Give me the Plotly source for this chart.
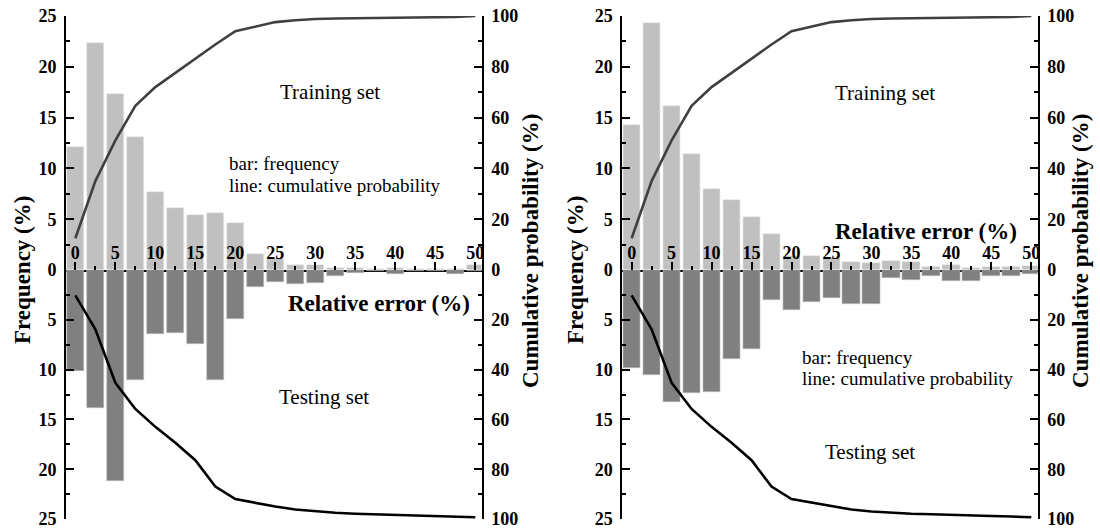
import plotly.graph_objects as go

# ---------------- data ----------------
rel_error = [0, 2.5, 5, 7.5, 10, 12.5, 15, 17.5, 20, 22.5, 25, 27.5, 30,
             32.5, 35, 37.5, 40, 42.5, 45, 47.5, 50]
x_tick_vals = [0, 5, 10, 15, 20, 25, 30, 35, 40, 45, 50]
freq_ticks_top = [0, 5, 10, 15, 20, 25]
freq_ticks_bottom = [5, 10, 15, 20, 25]
cum_ticks_top = [0, 20, 40, 60, 80, 100]
cum_ticks_bottom = [20, 40, 60, 80, 100]

# left panel
train_freq_a = [12.1, 22.3, 17.3, 13.1, 7.7, 6.1, 5.4, 5.6, 4.6, 1.6, 1.1,
                0.5, 0.45, 0.15, 0.2, 0.1, 0.15, 0.1, 0.1, 0.1, 0.5]
test_freq_a = [10.1, 13.9, 21.2, 11.0, 6.4, 6.3, 7.4, 11.0, 4.9, 1.7, 1.25,
               1.4, 1.3, 0.6, 0.35, 0.15, 0.4, 0.15, 0.15, 0.4, 0.15]
train_cum_a = [12.5, 35.0, 51.0, 64.6, 72.0, 77.6, 83.0, 88.8, 94.0, 95.9,
               97.6, 98.3, 98.8, 99.0, 99.1, 99.2, 99.3, 99.4, 99.5, 99.6, 100.0]
test_cum_a = [10.2, 23.8, 45.3, 55.8, 63.0, 69.4, 76.4, 87.0, 92.0, 93.5,
              95.0, 96.2, 97.0, 97.5, 97.9, 98.1, 98.4, 98.6, 98.8, 99.0, 99.3]

# right panel
train_freq_b = [14.3, 24.3, 16.1, 11.4, 8.0, 6.9, 5.2, 3.5, 1.4, 1.4, 1.15,
                0.8, 0.7, 0.9, 0.75, 0.33, 0.5, 0.2, 0.33, 0.26, 0.43]
test_freq_b = [9.8, 10.5, 13.3, 12.3, 12.2, 8.95, 7.9, 3.0, 4.0, 3.25, 2.85,
               3.4, 3.4, 0.85, 1.05, 0.62, 1.15, 1.1, 0.62, 0.62, 0.4]
train_cum_b = [12.5, 35.0, 51.0, 64.6, 72.0, 77.6, 83.0, 88.8, 94.0, 95.9,
               97.6, 98.3, 98.8, 99.0, 99.1, 99.2, 99.3, 99.4, 99.5, 99.6, 100.0]
test_cum_b = [10.2, 23.8, 45.3, 55.8, 63.0, 69.4, 76.4, 87.0, 92.0, 93.5,
              95.0, 96.2, 97.0, 97.5, 97.9, 98.1, 98.4, 98.6, 98.8, 99.0, 99.3]

# ---------------- layout helpers ----------------
W, H = 1100, 530
def PX(px):
    return px / W
def PY(py):
    return 1 - py / H

FONT = 'Liberation Serif'
tickfont = dict(family=FONT, size=18, color='black', weight='bold')
X_RANGE = [-1.17, 50.8]
TOP_DOM = [PY(270), PY(16)]
BOT_DOM = [PY(519), PY(270)]
PANEL_DOMS = [[PX(66), PX(481.7)], [PX(622.3), PX(1037.7)]]

TRAIN_BAR = '#c0c0c0'
TEST_BAR = '#808080'
TRAIN_LINE = '#404040'
TEST_LINE = '#000000'

fig = go.Figure()
layout = dict(
    width=W, height=H,
    margin=dict(l=0, r=0, t=0, b=0, pad=0, autoexpand=False),
    paper_bgcolor='white', plot_bgcolor='white',
    showlegend=False,
    bargap=0,
)

def yaxis_common():
    return dict(showline=True, linecolor='black', linewidth=2,
                ticks='inside', ticklen=8, tickwidth=2, tickcolor='black',
                tickfont=tickfont, showgrid=False, zeroline=False,
                ticklabelstandoff=4, automargin=False,
                ticklabeloverflow='allow')

panels = [
    (train_freq_a, test_freq_a, train_cum_a, test_cum_a),
    (train_freq_b, test_freq_b, train_cum_b, test_cum_b),
]

for i, (trf, tef, trc, tec) in enumerate(panels):
    xt = 2 * i + 1          # top x axis index
    xb = 2 * i + 2          # bottom x axis index
    yl_t = 4 * i + 1
    yr_t = 4 * i + 2
    yl_b = 4 * i + 3
    yr_b = 4 * i + 4
    def nm(prefix, k):
        return prefix + ('' if k == 1 else str(k))

    dom = PANEL_DOMS[i]
    # x axes
    layout[nm('xaxis', xt)] = dict(
        domain=dom, range=X_RANGE, anchor=nm('y', yl_t),
        showline=True, linecolor='black', linewidth=2,
        ticks='inside', ticklen=8, tickwidth=2, tickcolor='black',
        tickmode='array', tickvals=x_tick_vals,
        ticklabelposition='inside', ticklabeloverflow='allow',
        tickfont=tickfont, showgrid=False, zeroline=False, automargin=False,
        minor=dict(dtick=2.5, tick0=0, ticks='inside', ticklen=4,
                   tickwidth=2, tickcolor='black'),
    )
    layout[nm('xaxis', xb)] = dict(
        domain=dom, range=X_RANGE, anchor=nm('y', yl_b),
        visible=False, showgrid=False, zeroline=False, automargin=False,
    )
    # y axes
    a = yaxis_common()
    a.update(domain=TOP_DOM, range=[0, 25], anchor=nm('x', xt), side='left',
             tickmode='array', tickvals=freq_ticks_top,
             minor=dict(dtick=2.5, tick0=0, ticks='inside', ticklen=4,
                        tickwidth=2, tickcolor='black'))
    layout[nm('yaxis', yl_t)] = a
    a = yaxis_common()
    a.update(range=[0, 100], anchor=nm('x', xt), side='right',
             overlaying=nm('y', yl_t),
             tickmode='array', tickvals=cum_ticks_top,
             minor=dict(dtick=10, tick0=0, ticks='inside', ticklen=4,
                        tickwidth=2, tickcolor='black'))
    layout[nm('yaxis', yr_t)] = a
    a = yaxis_common()
    a.update(domain=BOT_DOM, range=[25, 0], anchor=nm('x', xb), side='left',
             tickmode='array', tickvals=freq_ticks_bottom,
             minor=dict(dtick=2.5, tick0=0, ticks='inside', ticklen=4,
                        tickwidth=2, tickcolor='black'))
    layout[nm('yaxis', yl_b)] = a
    a = yaxis_common()
    a.update(range=[100, 0], anchor=nm('x', xb), side='right',
             overlaying=nm('y', yl_b),
             tickmode='array', tickvals=cum_ticks_bottom,
             minor=dict(dtick=10, tick0=0, ticks='inside', ticklen=4,
                        tickwidth=2, tickcolor='black'))
    layout[nm('yaxis', yr_b)] = a

    # traces
    fig.add_trace(go.Bar(x=rel_error, y=trf, width=2.17,
                         marker=dict(color=TRAIN_BAR,
                                     line=dict(color='#e8e8e8', width=0.6)),
                         xaxis=nm('x', xt), yaxis=nm('y', yl_t),
                         name='Training frequency'))
    fig.add_trace(go.Bar(x=rel_error, y=tef, width=2.17,
                         marker=dict(color=TEST_BAR,
                                     line=dict(color='#bbbbbb', width=0.6)),
                         xaxis=nm('x', xb), yaxis=nm('y', yl_b),
                         name='Testing frequency'))
    fig.add_trace(go.Scatter(x=rel_error, y=trc, mode='lines',
                             line=dict(color=TRAIN_LINE, width=2.6),
                             xaxis=nm('x', xt), yaxis=nm('y', yr_t),
                             name='Training cumulative'))
    fig.add_trace(go.Scatter(x=rel_error, y=tec, mode='lines',
                             line=dict(color=TEST_LINE, width=2.6),
                             xaxis=nm('x', xb), yaxis=nm('y', yr_b),
                             name='Testing cumulative'))

fig.update_layout(**layout)

# ---------------- annotations ----------------
def ann(text, px, py, size, bold=False, xanchor='center', angle=0):
    fig.add_annotation(
        text=text, x=PX(px), y=PY(py), xref='paper', yref='paper',
        xanchor=xanchor, yanchor='middle', showarrow=False,
        textangle=angle,
        font=dict(family=FONT, size=size, color='black',
                  weight='bold' if bold else 'normal'))

# axis titles
for fx, cx in [(22, 530), (575, 1080)]:
    ann('Frequency (%)', fx, 270, 23, bold=True, angle=-90)
    ann('Cumulative probability (%)', cx, 251, 23, bold=True, angle=-90)

# left panel texts
ann('Training set', 329.5, 92, 21)
ann('bar: frequency', 227, 163, 19, xanchor='left')
ann('line: cumulative probability', 227, 185, 19, xanchor='left')
ann('Relative error (%)', 379, 303, 23, bold=True)
ann('Testing set', 323.5, 397, 21)

# right panel texts
ann('Training set', 885, 93, 21)
ann('Relative error (%)', 925.5, 231, 23, bold=True)
ann('bar: frequency', 800, 357, 19, xanchor='left')
ann('line: cumulative probability', 800, 378, 19, xanchor='left')
ann('Testing set', 869.5, 452, 21)

fig.write_html(
    "out.html",
    config={'displayModeBar': False},
    post_script="document.body.style.margin='0';"
                "document.body.style.overflow='hidden';"
                "document.documentElement.style.overflow='hidden';")
